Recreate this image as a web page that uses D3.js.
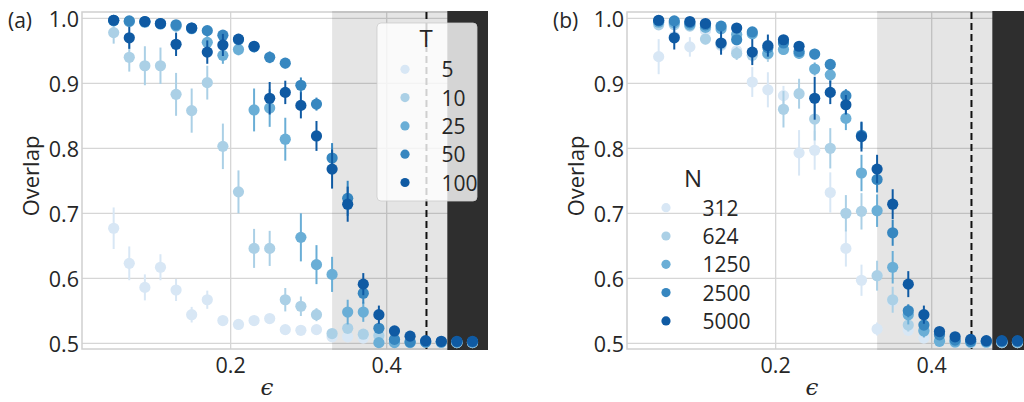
<!DOCTYPE html>
<html>
<head>
<meta charset="utf-8">
<script src="https://cdn.jsdelivr.net/npm/d3@7"></script>
<style>
  body { margin: 0; background: #fff; }
  svg text { font-family: "Open Sans", sans-serif; fill: #262626; }
</style>
</head>
<body>
<div id="chart"></div>
<script>
// ---- data ----
const eps = [0.05, 0.07, 0.09, 0.11, 0.13, 0.15, 0.17, 0.19, 0.21, 0.23, 0.25, 0.27,
             0.29, 0.31, 0.33, 0.35, 0.37, 0.39, 0.41, 0.43, 0.45, 0.47, 0.49, 0.51];

const yTicks = [0.5, 0.6, 0.7, 0.8, 0.9, 1.0];
const xTicks = [0.2, 0.4];

// shaded regions and threshold line (in epsilon units)
const lightRegion = [0.33, 0.4777];
const darkRegion = [0.4777, 0.54];
const thresholdEps = 0.451;

// panel (a): varying T
const tLabels = ["5", "10", "25", "50", "100"];
const t5 = [0.677, 0.623, 0.586, 0.617, 0.582, 0.544, 0.567, 0.535, 0.529, 0.535, 0.538, 0.521, 0.520, 0.521, 0.510, 0.510, 0.508, 0.511, 0.505, 0.503, 0.502, 0.501, 0.501, 0.501];
const t10 = [0.978, 0.940, 0.927, 0.927, 0.883, 0.858, 0.901, 0.803, 0.733, 0.646, 0.646, 0.567, 0.557, 0.544, 0.515, 0.523, 0.514, 0.512, 0.505, 0.503, 0.502, 0.501, 0.501, 0.501];
const t25 = [0.996, 0.995, 0.994, 0.991, 0.988, 0.984, 0.963, 0.943, 0.952, 0.859, 0.862, 0.814, 0.663, 0.621, 0.606, 0.548, 0.548, 0.501, 0.501, 0.501, 0.502, 0.502, 0.502, 0.502];
const t50 = [0.997, 0.996, 0.995, 0.992, 0.990, 0.985, 0.981, 0.974, 0.967, 0.956, 0.940, 0.931, 0.897, 0.868, 0.785, 0.723, 0.577, 0.523, 0.506, 0.502, 0.502, 0.502, 0.502, 0.502];
const t100 = [0.997, 0.970, 0.995, 0.992, 0.960, 0.985, 0.948, 0.959, 0.968, 0.957, 0.877, 0.886, 0.866, 0.819, 0.768, 0.714, 0.591, 0.544, 0.519, 0.511, 0.504, 0.503, 0.503, 0.503];

const t5Err = [0.032, 0.026, 0.020, 0.020, 0.017, 0.012, 0.014, 0.006, 0.005, 0.006, 0.006, 0.005, 0.005, 0.005, 0.004, 0.004, 0.004, 0.004, 0.003, 0.002, 0.002, 0.001, 0.001, 0.001];
const t10Err = [0.017, 0.022, 0.030, 0.028, 0.033, 0.034, 0.026, 0.035, 0.033, 0.030, 0.027, 0.018, 0.015, 0.010, 0.005, 0.006, 0.005, 0.004, 0.003, 0.002, 0.002, 0.001, 0.001, 0.001];
const t25Err = [0.002, 0.003, 0.003, 0.004, 0.005, 0.006, 0.010, 0.013, 0.009, 0.033, 0.029, 0.033, 0.037, 0.030, 0.027, 0.019, 0.015, 0.005, 0.003, 0.002, 0.001, 0.001, 0.001, 0.001];
const t50Err = [0.002, 0.003, 0.002, 0.003, 0.004, 0.004, 0.006, 0.008, 0.007, 0.008, 0.009, 0.008, 0.012, 0.010, 0.023, 0.027, 0.016, 0.006, 0.004, 0.002, 0.001, 0.001, 0.001, 0.001];
const t100Err = [0.002, 0.017, 0.002, 0.003, 0.018, 0.004, 0.018, 0.017, 0.008, 0.007, 0.025, 0.018, 0.020, 0.023, 0.030, 0.027, 0.017, 0.014, 0.006, 0.004, 0.002, 0.001, 0.001, 0.001];

// panel (b): varying N
const nLabels = ["312", "624", "1250", "2500", "5000"];
const n312 = [0.941, 0.972, 0.956, 0.981, 0.958, 0.950, 0.902, 0.890, 0.881, 0.793, 0.797, 0.732, 0.646, 0.597, 0.522, 0.565, 0.520, 0.508, 0.503, 0.502, 0.501, 0.501, 0.501, 0.501];
const n624 = [0.990, 0.990, 0.988, 0.968, 0.960, 0.946, 0.943, 0.945, 0.860, 0.884, 0.845, 0.800, 0.700, 0.703, 0.604, 0.567, 0.528, 0.520, 0.504, 0.502, 0.501, 0.501, 0.501, 0.501];
const n1250 = [0.994, 0.993, 0.990, 0.986, 0.984, 0.975, 0.976, 0.946, 0.952, 0.946, 0.922, 0.913, 0.846, 0.762, 0.704, 0.617, 0.544, 0.519, 0.503, 0.502, 0.502, 0.502, 0.502, 0.502];
const n2500 = [0.996, 0.996, 0.993, 0.990, 0.988, 0.967, 0.979, 0.955, 0.962, 0.949, 0.945, 0.929, 0.881, 0.820, 0.752, 0.670, 0.550, 0.528, 0.513, 0.505, 0.503, 0.503, 0.503, 0.503];
const n5000 = [0.997, 0.970, 0.995, 0.992, 0.962, 0.985, 0.948, 0.958, 0.967, 0.957, 0.877, 0.886, 0.867, 0.818, 0.768, 0.714, 0.591, 0.544, 0.518, 0.510, 0.506, 0.504, 0.504, 0.504];

const n312Err = [0.027, 0.008, 0.015, 0.006, 0.010, 0.010, 0.023, 0.027, 0.015, 0.035, 0.030, 0.031, 0.028, 0.024, 0.010, 0.010, 0.006, 0.004, 0.002, 0.002, 0.001, 0.001, 0.001, 0.001];
const n624Err = [0.004, 0.004, 0.006, 0.008, 0.010, 0.010, 0.010, 0.012, 0.028, 0.023, 0.033, 0.031, 0.028, 0.028, 0.023, 0.020, 0.010, 0.006, 0.003, 0.002, 0.001, 0.001, 0.001, 0.001];
const n1250Err = [0.002, 0.003, 0.004, 0.005, 0.005, 0.006, 0.006, 0.008, 0.008, 0.008, 0.010, 0.012, 0.018, 0.028, 0.025, 0.025, 0.015, 0.010, 0.004, 0.002, 0.001, 0.001, 0.001, 0.001];
const n2500Err = [0.002, 0.002, 0.003, 0.003, 0.004, 0.006, 0.005, 0.007, 0.007, 0.008, 0.008, 0.008, 0.010, 0.020, 0.020, 0.020, 0.010, 0.006, 0.003, 0.002, 0.001, 0.001, 0.001, 0.001];
const n5000Err = [0.002, 0.018, 0.002, 0.003, 0.018, 0.004, 0.020, 0.017, 0.007, 0.007, 0.033, 0.018, 0.015, 0.023, 0.022, 0.023, 0.020, 0.014, 0.005, 0.003, 0.002, 0.001, 0.001, 0.001];

const blues = ["#d8e7f5", "#abd0e6", "#6aaed6", "#3787c0", "#0f5aa3"];

// ---- drawing ----
const W = 1024, H = 402;
const svg = d3.select("#chart").append("svg")
  .attr("width", W).attr("height", H);

function drawPanel(opt) {
  const left = opt.left, top = 12, width = 405, height = 337;

  const x = d3.scaleLinear().domain([0.0094, 0.5286]).range([left, left + width]);
  const y = d3.scaleLinear().domain([0.4912, 1.0097]).range([top + height, top]);

  const g = svg.append("g");

  // clip so that the right panel does not spill
  const clipId = "clip-" + opt.tag.replace(/\W/g, "");
  g.append("clipPath").attr("id", clipId)
    .append("rect").attr("x", left - 1).attr("y", top - 1).attr("width", width + 2).attr("height", height + 2);

  const plot = g.append("g").attr("clip-path", `url(#${clipId})`);

  // grid
  plot.selectAll(".hgrid").data(yTicks).join("line")
    .attr("x1", left).attr("x2", left + width)
    .attr("y1", d => y(d)).attr("y2", d => y(d))
    .attr("stroke", "#d6d6d6").attr("stroke-width", 1.3);
  plot.selectAll(".vgrid").data(xTicks).join("line")
    .attr("y1", top).attr("y2", top + height)
    .attr("x1", d => x(d)).attr("x2", d => x(d))
    .attr("stroke", "#d6d6d6").attr("stroke-width", 1.3);

  // frame (under the shading)
  plot.append("rect")
    .attr("x", left).attr("y", top).attr("width", width).attr("height", height)
    .attr("fill", "none").attr("stroke", "#d0d0d0").attr("stroke-width", 1.5);

  // shaded regions
  plot.append("rect")
    .attr("x", x(lightRegion[0])).attr("y", top - 1)
    .attr("width", x(lightRegion[1]) - x(lightRegion[0])).attr("height", height + 2)
    .attr("fill", "#000").attr("fill-opacity", 0.1);
  plot.append("rect")
    .attr("x", x(darkRegion[0])).attr("y", top - 1)
    .attr("width", x(darkRegion[1]) - x(darkRegion[0])).attr("height", height + 2)
    .attr("fill", "#2e2e2e");

  // threshold
  plot.append("line")
    .attr("x1", x(thresholdEps)).attr("x2", x(thresholdEps))
    .attr("y1", top).attr("y2", top + height)
    .attr("stroke", "#111").attr("stroke-width", 2)
    .attr("stroke-dasharray", "7,4");

  // series
  opt.series.forEach((s, k) => {
    const sg = plot.append("g");
    const pts = eps.map((e, i) => ({ e: e, v: s.values[i], err: s.err[i] }));
    sg.selectAll("line").data(pts).join("line")
      .attr("x1", d => x(d.e)).attr("x2", d => x(d.e))
      .attr("y1", d => y(d.v - d.err)).attr("y2", d => y(d.v + d.err))
      .attr("stroke", blues[k]).attr("stroke-width", 2);
    sg.selectAll("circle").data(pts).join("circle")
      .attr("cx", d => x(d.e)).attr("cy", d => y(d.v))
      .attr("r", 5.6).attr("fill", blues[k]);
  });

  // tick labels
  g.selectAll(".ytl").data(yTicks).join("text")
    .attr("x", left - 3).attr("y", d => y(d))
    .attr("text-anchor", "end").attr("dominant-baseline", "central")
    .style("font-size", "21.5px")
    .text(d3.format(".1f"));
  g.selectAll(".xtl").data(xTicks).join("text")
    .attr("x", d => x(d)).attr("y", 373)
    .attr("text-anchor", "middle")
    .style("font-size", "21.5px")
    .text(d3.format(".1f"));

  // axis labels
  g.append("text")
    .attr("transform", `translate(${left - 43},176) rotate(-90)`)
    .attr("text-anchor", "middle")
    .style("font-size", "22px")
    .text("Overlap");
  g.append("text")
    .attr("x", left + 185).attr("y", 395)
    .attr("text-anchor", "middle")
    .style("font-family", "'DejaVu Serif', serif")
    .style("font-style", "italic")
    .style("font-size", "23px")
    .text("ϵ");
  g.append("text")
    .attr("x", left - 74).attr("y", 28)
    .style("font-size", "21px")
    .text(opt.tag);

  // legend
  const lg = g.append("g");
  const L = opt.legend;
  if (L.frame) {
    lg.append("rect")
      .attr("x", L.x).attr("y", L.y).attr("width", L.w).attr("height", L.h)
      .attr("rx", 4)
      .attr("fill", "#fff").attr("fill-opacity", 0.8)
      .attr("stroke", "#cccccc").attr("stroke-opacity", 0.8);
  }
  lg.append("text")
    .attr("x", L.titleX).attr("y", L.titleY)
    .attr("text-anchor", "middle")
    .style("font-size", "24px")
    .text(L.title);
  const rows = lg.selectAll(".row").data(opt.series).join("g")
    .attr("transform", (d, k) => `translate(0,${L.firstY + k * 28.3})`);
  rows.append("circle")
    .attr("cx", L.markerX).attr("cy", 0).attr("r", 4.6)
    .attr("fill", (d, k) => blues[k]);
  rows.append("text")
    .attr("x", L.labelX).attr("y", 0)
    .attr("dominant-baseline", "central")
    .style("font-size", "21px")
    .text(d => d.label);
}

drawPanel({
  tag: "(a)",
  left: 82,
  series: [
    { label: tLabels[0], values: t5, err: t5Err },
    { label: tLabels[1], values: t10, err: t10Err },
    { label: tLabels[2], values: t25, err: t25Err },
    { label: tLabels[3], values: t50, err: t50Err },
    { label: tLabels[4], values: t100, err: t100Err }
  ],
  legend: { frame: true, x: 377, y: 23, w: 100, h: 178, title: "T",
            titleX: 426, titleY: 47, firstY: 69.3, markerX: 405, labelX: 441.5 }
});

drawPanel({
  tag: "(b)",
  left: 627,
  series: [
    { label: nLabels[0], values: n312, err: n312Err },
    { label: nLabels[1], values: n624, err: n624Err },
    { label: nLabels[2], values: n1250, err: n1250Err },
    { label: nLabels[3], values: n2500, err: n2500Err },
    { label: nLabels[4], values: n5000, err: n5000Err }
  ],
  legend: { frame: false, x: 638, y: 160, w: 118, h: 178, title: "N",
            titleX: 693, titleY: 187, firstY: 207.7, markerX: 666, labelX: 702.5 }
});
</script>
</body>
</html>
